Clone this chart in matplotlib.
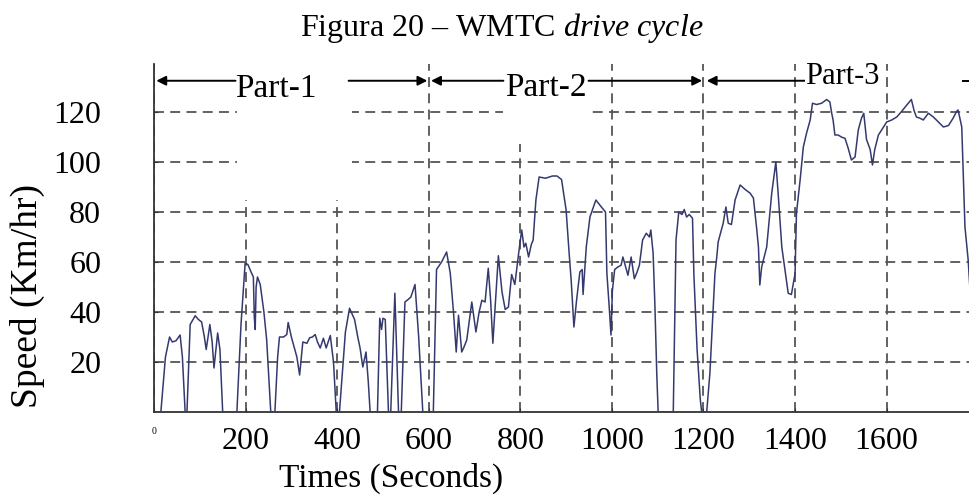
import matplotlib
matplotlib.use("Agg")
import matplotlib.pyplot as plt
from matplotlib.patches import Rectangle

plt.rcParams['font.family'] = ['Liberation Serif', 'DejaVu Serif']
plt.rcParams['mathtext.fontset'] = 'custom'
plt.rcParams['mathtext.rm'] = 'Liberation Serif'
plt.rcParams['mathtext.it'] = 'Liberation Serif:italic'

# WMTC speed trace (seconds, km/h)
time_s = [0, 15, 25, 34, 40, 48, 57, 62, 68,
          72, 79, 90, 97, 104, 110, 114, 122, 127, 131, 139, 144, 150,
          181, 190, 199, 205, 212, 217, 219, 221, 223, 226, 232, 240, 246, 255,
          264, 270, 274, 283, 290, 293, 300, 306, 312, 318, 325, 334, 340, 346,
          352, 357, 363, 370, 376, 385, 392, 398,
          405, 418, 427, 438, 445, 450, 456, 463, 468, 472,
          488, 493, 497, 500, 505, 512,
          517, 526, 534,
          540, 548, 555, 561, 570, 578, 587,
          610, 617, 628, 639, 647, 654, 660, 665, 672, 677, 683, 694, 703, 710,
          716, 723, 730, 735, 740, 752, 760, 767, 774, 781, 788, 796, 803, 808,
          812, 818, 824, 828, 834, 841, 855, 870, 880, 890, 900, 906, 911, 917,
          923, 930, 935, 937, 940, 944, 952, 965, 977, 986, 989, 994, 998, 1001,
          1006, 1013, 1020, 1024, 1030, 1035, 1042, 1049, 1055, 1060, 1067, 1075,
          1082, 1085, 1090, 1094, 1098, 1101,
          1134, 1140, 1146, 1153, 1158, 1163, 1169, 1176, 1179, 1186, 1193, 1196,
          1207, 1214, 1225, 1229, 1232, 1243, 1249, 1254, 1261, 1269, 1280, 1291,
          1302, 1309, 1316, 1320, 1323, 1327, 1338, 1349, 1358, 1363, 1371, 1378,
          1385, 1392, 1400, 1403, 1411, 1418, 1425, 1433, 1438, 1447, 1458, 1469,
          1476, 1480, 1483, 1487, 1494, 1502, 1509, 1516, 1523, 1531, 1538, 1545,
          1550, 1556, 1564, 1569, 1574, 1582, 1593, 1600, 1611, 1622, 1633, 1644,
          1654, 1660, 1665, 1673, 1680, 1691, 1702, 1713, 1724, 1735, 1745, 1753,
          1756, 1764, 1771, 1778, 1785, 1795, 1800]
speed_kmh = [0, 0, 22, 30, 28, 28.5, 30.8, 22, 0,
             0, 35, 38.5, 37, 36, 30, 25, 35, 28, 17.6, 31.6, 25, 0,
             0, 35, 59.5, 59, 56, 54, 38, 33, 50, 54, 51, 40, 29, 0,
             0, 22, 30, 30, 31, 35.8, 30, 26, 22, 14.8, 28, 27.5, 29.7, 30,
             31, 28, 25.6, 29.5, 25.6, 30.6, 20, 0,
             0, 32, 41.5, 37, 30, 25.6, 18, 24, 12, 0,
             0, 37.5, 33, 37.5, 37, 0,
             0, 47.5, 0,
             0, 44, 45, 46, 51, 30, 0,
             0, 57, 60, 64, 55.5, 40, 24, 38.7, 24, 26, 28.8, 44, 32, 40,
             44.7, 44, 57.5, 45, 27.5, 62.5, 48, 41, 42, 55, 51, 63, 72.8, 66,
             67.5, 62, 67, 68.8, 84.8, 94, 93.5, 94.4, 94.4, 93, 80.8, 65, 52.8, 34,
             45, 56, 57, 47, 55, 66, 78, 84.8, 82, 80, 55.5, 42.3, 30.8, 48.5,
             57, 58, 58.7, 62, 58, 54.7, 62, 53.3, 56, 58.7, 68.8, 71.5,
             70, 72.8, 63.5, 42, 15, 0,
             0, 68.8, 80, 79, 81, 78, 79, 77.5, 55, 25, 5, 0,
             0, 15.6, 55.5, 62, 68, 75.5, 82, 75.5, 75, 84.8, 90.8, 89,
             87.5, 85.6, 73.6, 66, 50.8, 58, 66, 87.5, 100, 87.5, 66, 56.8,
             47.5, 47, 55.5, 79.5, 92.8, 106, 111.5, 116.8, 123.5, 123, 123.5, 125,
             124, 119.5, 116.8, 110.8, 110.8, 109.9, 109.5, 105.5, 100.8, 102, 112.8, 117.5,
             119.5, 109, 105, 98.8, 105, 110.8, 114, 116, 116.8, 118, 120.3, 122.8,
             125, 120.5, 118, 117.5, 116.8, 119.5, 118, 116, 114, 114.6, 117.5, 120.3,
             120.8, 114, 74, 60.8, 40, 5, 0]

x_ticks = [0, 200, 400, 600, 800, 1000, 1200, 1400, 1600]
y_ticks = [20, 40, 60, 80, 100, 120]
part_labels = ['Part-1', 'Part-2', 'Part-3']

fig = plt.figure(figsize=(9.7, 4.97), dpi=100)
ax = fig.add_axes([154 / 970, 1 - 412 / 497, 1 - 154 / 970, 348 / 497])

ax.plot(time_s, speed_kmh, color='#353a6e', lw=1.1, zorder=3)

ax.set_xlim(0, 1782)
ax.set_ylim(0, 139.2)
ax.set_xticks(x_ticks)
ax.set_xticklabels([str(v) for v in x_ticks])
ax.get_xticklabels()[0].set_fontsize(7)
ax.set_yticks(y_ticks)
ax.tick_params(axis='x', direction='in', length=3, labelsize=23, pad=11, color='#333333')
ax.tick_params(axis='y', direction='in', length=3, labelsize=23, pad=38, color='#333333')
ax.get_xticklabels()[0].set_fontsize(7)

ax.grid(True, linestyle=(0, (5.5, 3.5)), color='#555555', lw=1.3)
for s in ['top', 'right']:
    ax.spines[s].set_visible(False)
for s in ['left', 'bottom']:
    ax.spines[s].set_linewidth(1.3)
    ax.spines[s].set_color('#333333')

# blank areas behind the part labels, as in the scan
ax.add_patch(Rectangle((181, 85), 251, 60, facecolor='white', edgecolor='none', zorder=2))
ax.add_patch(Rectangle((763, 107), 194, 40, facecolor='white', edgecolor='none', zorder=2))

# part arrows
arrow_y = 132.5
ap = dict(arrowstyle='-|>', color='black', lw=1.4, mutation_scale=14, shrinkA=0, shrinkB=0)
for x0, x1 in [(178, 5), (425, 597), (763, 605), (949, 1197), (1422, 1207)]:
    ax.annotate('', xy=(x1, arrow_y), xytext=(x0, arrow_y), arrowprops=ap,
                annotation_clip=False, zorder=4)
ax.plot([1766, 1800], [arrow_y, arrow_y], color='black', lw=1.4, clip_on=False, zorder=4)

ax.text(265, 126.1, part_labels[0], fontsize=24, ha='center', va='baseline', zorder=5)
ax.text(856, 126.4, part_labels[1], fontsize=24, ha='center', va='baseline', zorder=5)
ax.text(1504, 131.2, part_labels[2], fontsize=22, ha='center', va='baseline', zorder=5,
        bbox=dict(facecolor='white', edgecolor='none', pad=0))

ax.set_xlabel('Times (Seconds)', fontsize=24)
ax.xaxis.label.set_va('center')
ax.xaxis.set_label_coords(0.291, -0.19)
ax.set_ylabel('Speed (Km/hr)', fontsize=27)
ax.yaxis.label.set_va('center')
ax.yaxis.set_label_coords(-0.155, 0.333)

fig.text(502 / 970, 1 - 28 / 497, r'Figura 20 – WMTC $\mathit{drive\ cycle}$',
         fontsize=23, ha='center', va='center')

fig.savefig('out.png', dpi=100)
